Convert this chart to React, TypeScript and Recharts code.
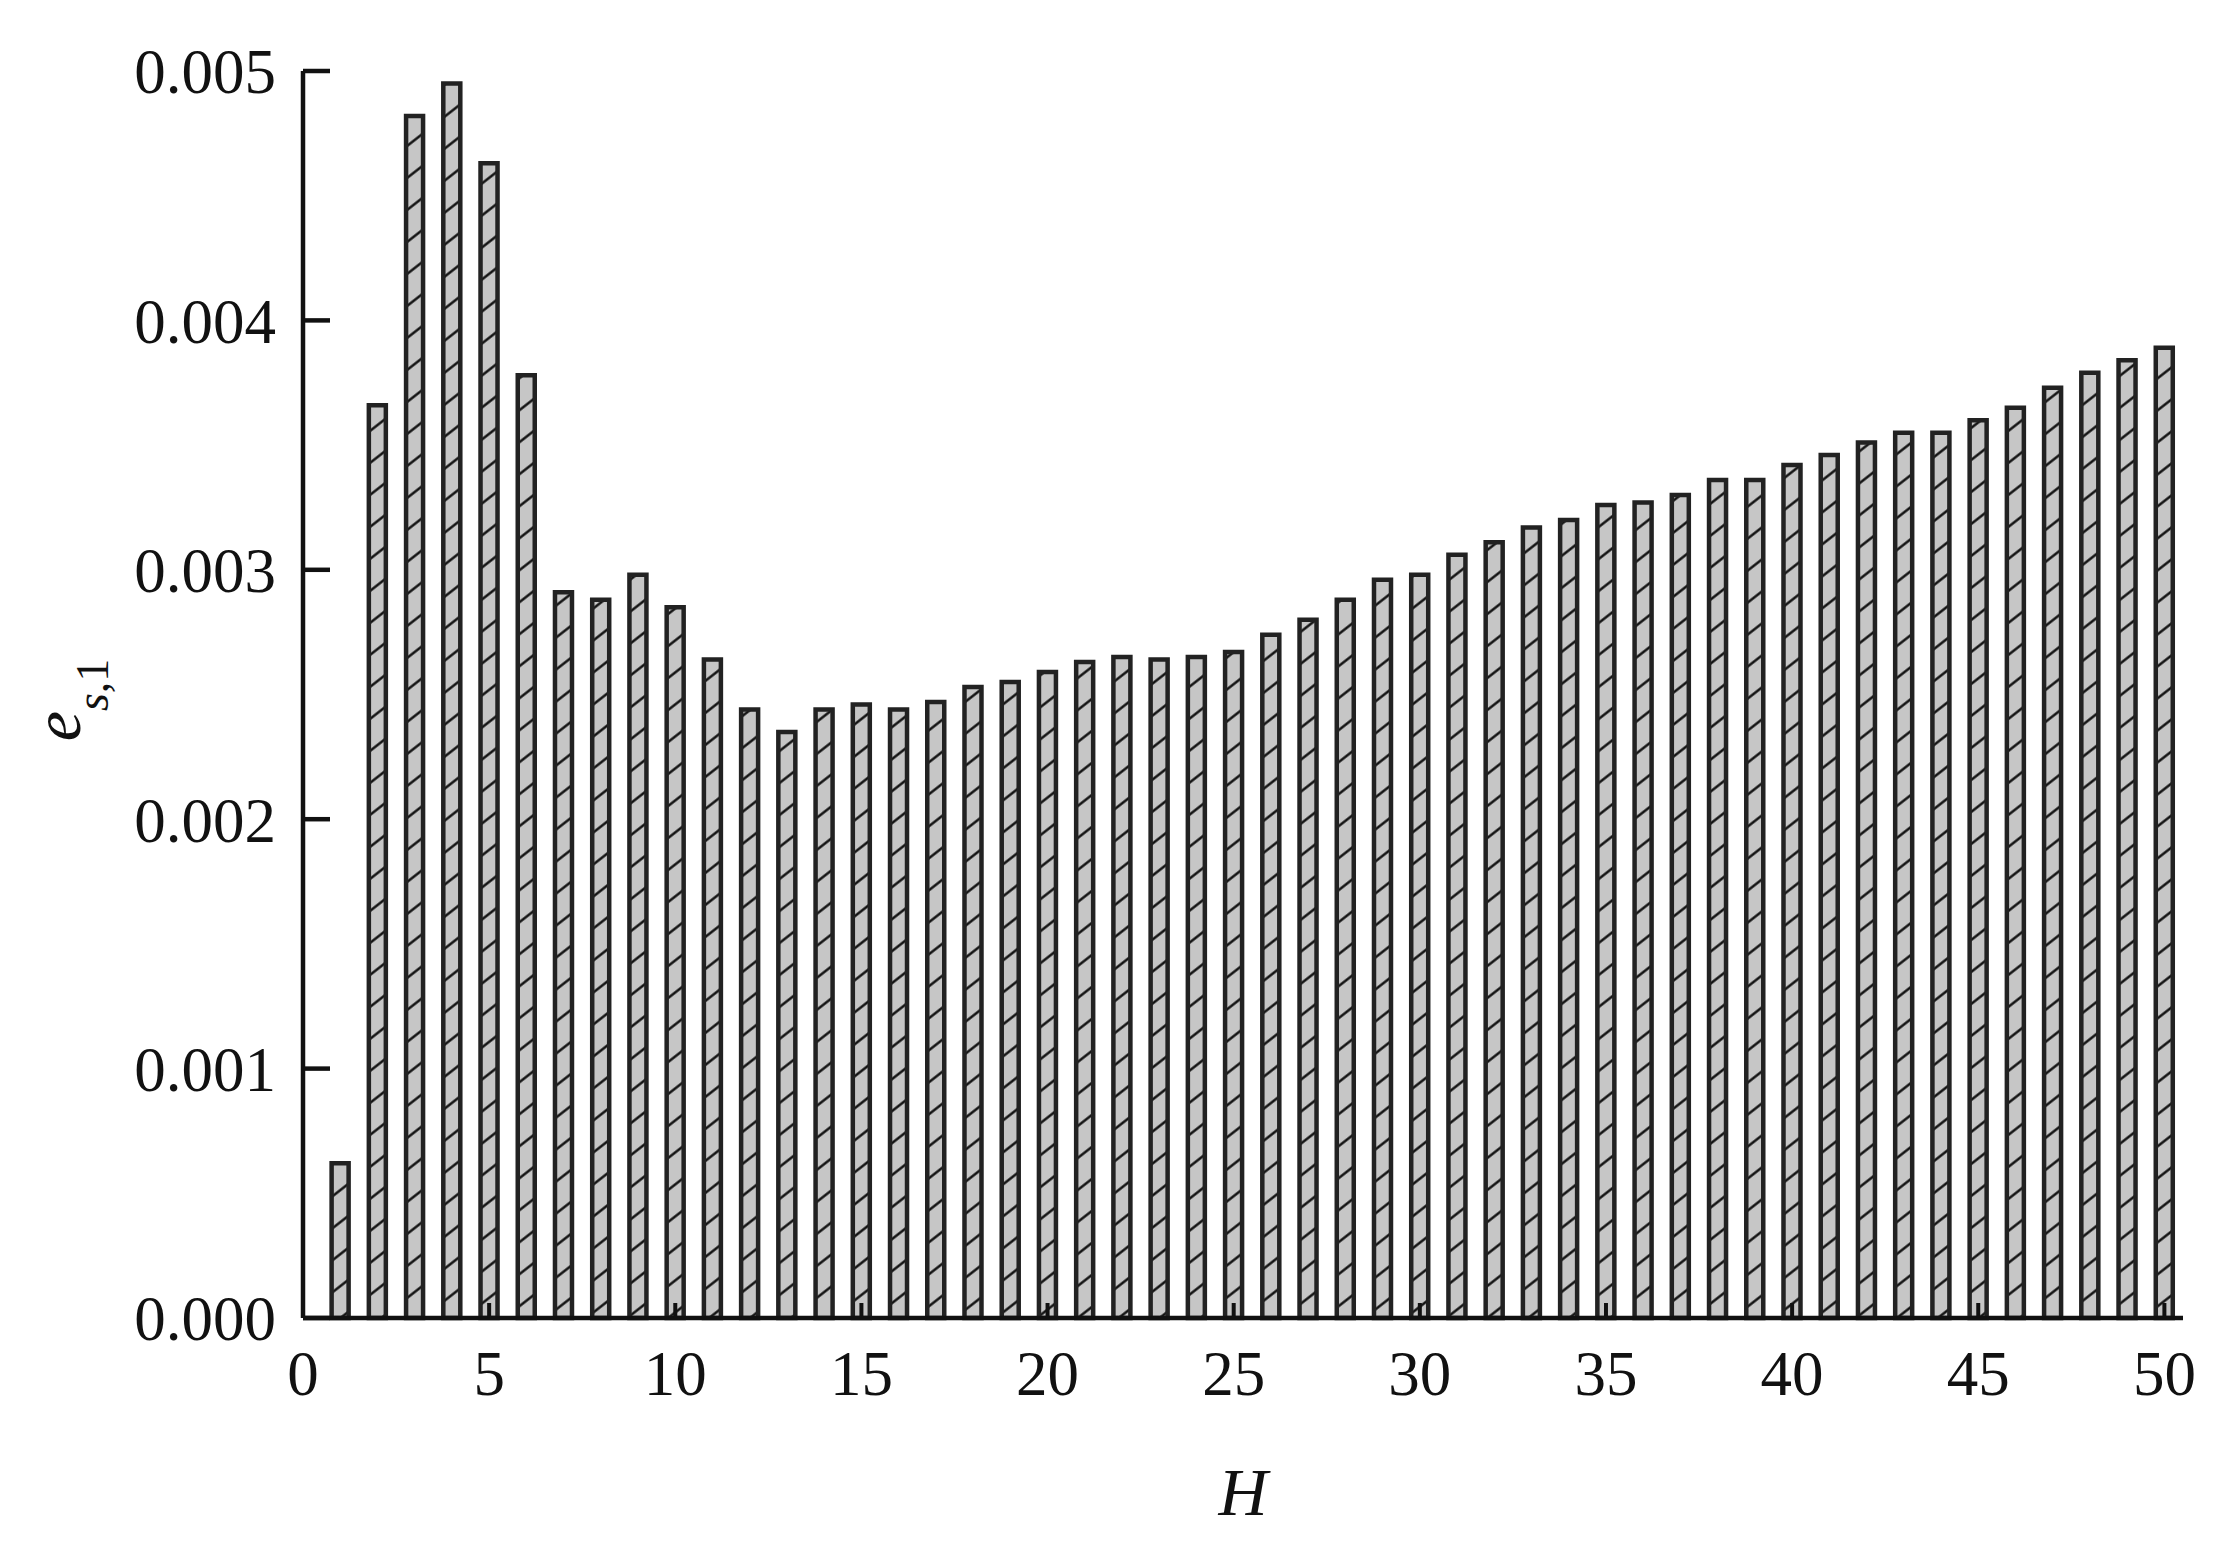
import React from 'react';
import { BarChart, Bar, XAxis, YAxis } from 'recharts';

// Harmonic order H and the error e_s,1
const harmonicOrders = [
  1, 2, 3, 4, 5, 6, 7, 8, 9, 10,
  11, 12, 13, 14, 15, 16, 17, 18, 19, 20,
  21, 22, 23, 24, 25, 26, 27, 28, 29, 30,
  31, 32, 33, 34, 35, 36, 37, 38, 39, 40,
  41, 42, 43, 44, 45, 46, 47, 48, 49, 50,
];
const errorValues = [
  0.00062, 0.00366, 0.00482, 0.00495, 0.00463, 0.00378, 0.00291, 0.00288, 0.00298, 0.00285,
  0.00264, 0.00244, 0.00235, 0.00244, 0.00246, 0.00244, 0.00247, 0.00253, 0.00255, 0.00259,
  0.00263, 0.00265, 0.00264, 0.00265, 0.00267, 0.00274, 0.0028, 0.00288, 0.00296, 0.00298,
  0.00306, 0.00311, 0.00317, 0.0032, 0.00326, 0.00327, 0.0033, 0.00336, 0.00336, 0.00342,
  0.00346, 0.00351, 0.00355, 0.00355, 0.0036, 0.00365, 0.00373, 0.00379, 0.00384, 0.00389,
];
const xTicks = [0, 5, 10, 15, 20, 25, 30, 35, 40, 45, 50];
const yTicks = [0, 0.001, 0.002, 0.003, 0.004, 0.005];

const data = harmonicOrders.map((h, i) => ({ h, e: errorValues[i] }));

const FONT = '"Liberation Serif", "Times New Roman", serif';
const INK = '#111';

export default function App() {
  return (
    <div style={{ position: 'absolute', left: 0, top: 0, width: 2239, height: 1555, background: '#fff' }}>
      {/* hatch used by the bars */}
      <svg width={0} height={0} style={{ position: 'absolute' }}>
        <defs>
          <pattern id="hatch" patternUnits="userSpaceOnUse" width={12} height={32} patternTransform="skewY(-38)">
            <rect width={12} height={32} fill="#c6c6c6" />
            <line x1={0} y1={16} x2={12} y2={16} stroke="#151515" strokeWidth={3.2} />
          </pattern>
        </defs>
      </svg>

      <BarChart
        width={2239}
        height={1555}
        data={data}
        margin={{ top: 71, right: 56, bottom: 37, left: 103 }}
      >
        <XAxis
          dataKey="h"
          type="number"
          domain={[0, 50.5]}
          ticks={xTicks}
          interval={0}
          height={200}
          tickSize={-15}
          tickMargin={47}
          axisLine={{ stroke: INK, strokeWidth: 4.5 }}
          tickLine={{ stroke: INK, strokeWidth: 4 }}
          tick={{ fill: INK, fontSize: 63, fontFamily: FONT }}
        />
        <YAxis
          type="number"
          domain={[0, 0.005]}
          ticks={yTicks}
          interval={0}
          width={200}
          tickSize={-27}
          tickMargin={54}
          tickFormatter={(v: number) => v.toFixed(3)}
          axisLine={{ stroke: INK, strokeWidth: 4.5 }}
          tickLine={{ stroke: INK, strokeWidth: 4.5 }}
          tick={{ fill: INK, fontSize: 63, fontFamily: FONT }}
        />
        <Bar
          dataKey="e"
          barSize={17}
          fill="url(#hatch)"
          stroke="#222"
          strokeWidth={4.5}
          isAnimationActive={false}
        />
      </BarChart>

      {/* axis titles */}
      <svg width={2239} height={1555} style={{ position: 'absolute', left: 0, top: 0, pointerEvents: 'none' }}>
        <text
          x={1243}
          y={1515}
          textAnchor="middle"
          fontFamily={FONT}
          fontSize={68}
          fontStyle="italic"
          fill={INK}
        >
          H
        </text>
        <text
          x={700}
          y={80}
          transform="rotate(-90, 80, 700) translate(-620, 620)"
          textAnchor="middle"
          fontFamily={FONT}
          fontSize={68}
          fill={INK}
        >
          <tspan fontStyle="italic">e</tspan>
          <tspan fontStyle="italic" fontSize={46} dy={28}>s</tspan>
          <tspan fontSize={46}>,1</tspan>
        </text>
      </svg>
    </div>
  );
}
